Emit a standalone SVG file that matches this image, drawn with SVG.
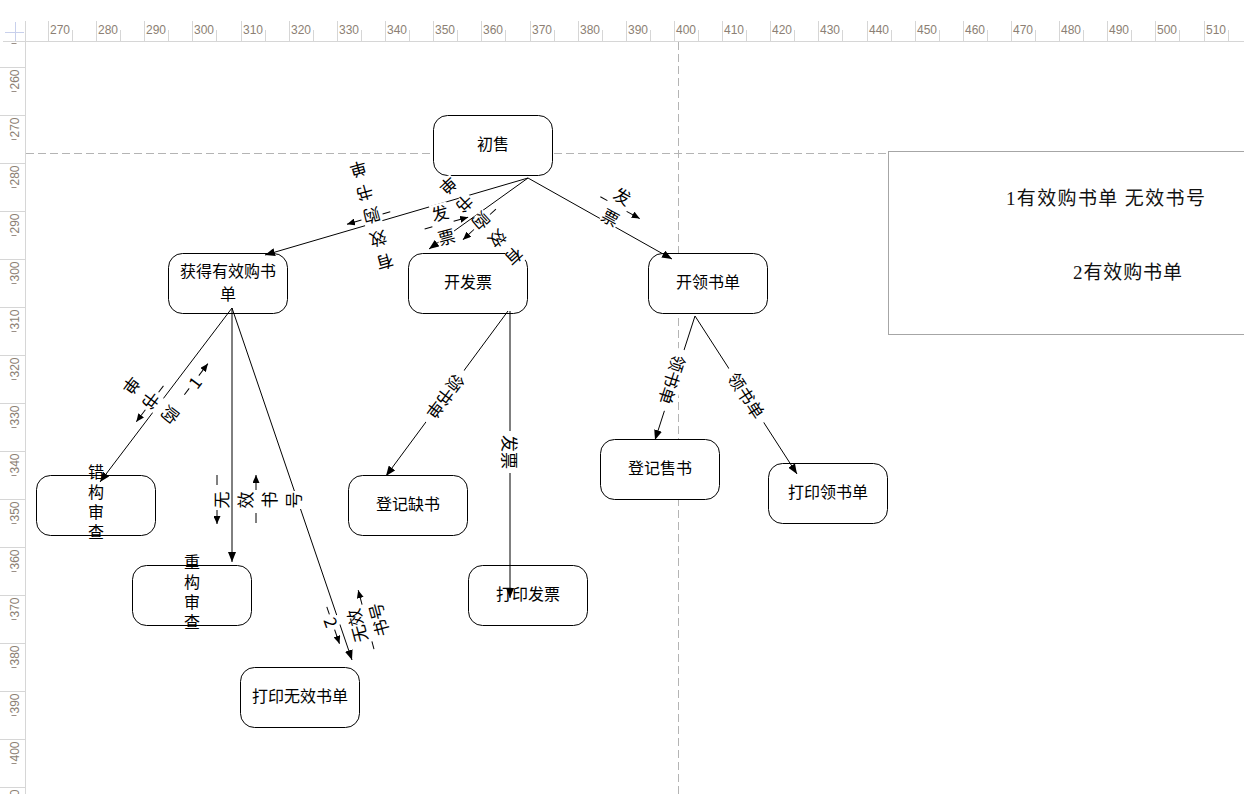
<svg xmlns="http://www.w3.org/2000/svg" width="1244" height="794" viewBox="0 0 1244 794">
<style>
.rl{stroke:#d6d6d6;stroke-width:1;fill:none;shape-rendering:crispEdges}
.rt{font-family:"Liberation Sans",Arial,sans-serif;font-size:12px;fill:#8c7f74}
.guide{stroke:#b4b4b4;stroke-width:1;stroke-dasharray:8 4;fill:none}
.node rect{fill:#fff;stroke:#000;stroke-width:1}
.nt{font-family:"Noto Sans CJK SC","Noto Sans",sans-serif;font-size:16px;fill:#000;text-anchor:middle;dominant-baseline:central}
.vt{font-family:"Noto Sans CJK SC","Noto Sans",sans-serif;font-size:16px;fill:#000;writing-mode:vertical-rl;letter-spacing:4px}
.edge{stroke:#000;stroke-width:1;fill:none;marker-end:url(#ah)}
.lt{font-family:"Noto Sans CJK SC",sans-serif;font-size:17px;fill:#000;text-anchor:middle;dominant-baseline:central}
.lm{fill:#fff}
.ld{stroke:#000;stroke-width:1}
.la{stroke:#000;stroke-width:1;marker-end:url(#sa)}
.lg{font-family:"Liberation Serif","Noto Sans CJK SC",serif;font-size:19px;fill:#111;dominant-baseline:central}
</style>
<defs>
<marker id="ah" markerUnits="userSpaceOnUse" markerWidth="10" markerHeight="8" refX="10" refY="4" orient="auto"><path d="M0,0 L10,4 L0,8 Z" fill="#000"/></marker>
<marker id="sa" markerUnits="userSpaceOnUse" markerWidth="8" markerHeight="7" refX="8" refY="3.5" orient="auto"><path d="M0,0 L8,3.5 L0,7 Z" fill="#000"/></marker>
</defs>
<rect width="1244" height="794" fill="#fff"/>
<g id="ruler">
<line class="rl" x1="3" y1="41.5" x2="1244" y2="41.5"/>
<line class="rl" x1="25.5" y1="21" x2="25.5" y2="794"/>
<line x1="5" y1="32.5" x2="24" y2="32.5" stroke="#c8d0ec"/>
<line x1="15.5" y1="22" x2="15.5" y2="41" stroke="#c8d0ec"/>
<path class="rl" d="M48.5,21V41M96.5,21V41M144.5,21V41M192.5,21V41M241,21V41M289,21V41M337,21V41M385.5,21V41M433.5,21V41M481.5,21V41M530,21V41M578,21V41M626,21V41M674.5,21V41M722.5,21V41M770.5,21V41M818.5,21V41M867,21V41M915,21V41M963,21V41M1011.5,21V41M1059.5,21V41M1107.5,21V41M1155.5,21V41M1204,21V41"/>
<path class="rl" d="M72.5,30V41M120.5,30V41M168.5,30V41M216.5,30V41M265,30V41M313,30V41M361,30V41M409.5,30V41M457.5,30V41M505.5,30V41M554,30V41M602,30V41M650,30V41M698.5,30V41M746.5,30V41M794.5,30V41M842.5,30V41M891,30V41M939,30V41M987,30V41M1035.5,30V41M1083.5,30V41M1131.5,30V41M1179.5,30V41M1228,30V41"/>
<g class="rt">
<text x="50" y="34">270</text><text x="98" y="34">280</text><text x="146" y="34">290</text><text x="194" y="34">300</text><text x="243" y="34">310</text><text x="291" y="34">320</text><text x="339" y="34">330</text><text x="387" y="34">340</text><text x="435" y="34">350</text><text x="483" y="34">360</text><text x="532" y="34">370</text><text x="580" y="34">380</text><text x="628" y="34">390</text><text x="676" y="34">400</text><text x="724" y="34">410</text><text x="772" y="34">420</text><text x="820" y="34">430</text><text x="869" y="34">440</text><text x="917" y="34">450</text><text x="965" y="34">460</text><text x="1013" y="34">470</text><text x="1061" y="34">480</text><text x="1109" y="34">490</text><text x="1157" y="34">500</text><text x="1206" y="34">510</text>
</g>
<path class="rl" d="M0,67.5H25M0,115.5H25M0,163.5H25M0,211.5H25M0,259.5H25M0,307.5H25M0,355.5H25M0,403.5H25M0,451.5H25M0,499.5H25M0,547.5H25M0,595.5H25M0,643.5H25M0,691.5H25M0,739.5H25M0,787.5H25"/>
<path d="M11.5,43.5H16.5M11.5,91.5H16.5M11.5,139.5H16.5M11.5,187.5H16.5M11.5,235.5H16.5M11.5,283.5H16.5M11.5,331.5H16.5M11.5,379.5H16.5M11.5,427.5H16.5M11.5,475.5H16.5M11.5,523.5H16.5M11.5,571.5H16.5M11.5,619.5H16.5M11.5,667.5H16.5M11.5,715.5H16.5M11.5,763.5H16.5" stroke="#9a8f86" stroke-width="1"/>
<g class="rt" text-anchor="end">
<text transform="translate(18.5,69.5) rotate(-90)">260</text>
<text transform="translate(18.5,117.5) rotate(-90)">270</text>
<text transform="translate(18.5,165.5) rotate(-90)">280</text>
<text transform="translate(18.5,213.5) rotate(-90)">290</text>
<text transform="translate(18.5,261.5) rotate(-90)">300</text>
<text transform="translate(18.5,309.5) rotate(-90)">310</text>
<text transform="translate(18.5,357.5) rotate(-90)">320</text>
<text transform="translate(18.5,405.5) rotate(-90)">330</text>
<text transform="translate(18.5,453.5) rotate(-90)">340</text>
<text transform="translate(18.5,501.5) rotate(-90)">350</text>
<text transform="translate(18.5,549.5) rotate(-90)">360</text>
<text transform="translate(18.5,597.5) rotate(-90)">370</text>
<text transform="translate(18.5,645.5) rotate(-90)">380</text>
<text transform="translate(18.5,693.5) rotate(-90)">390</text>
<text transform="translate(18.5,741.5) rotate(-90)">400</text>
<text transform="translate(18.5,789.5) rotate(-90)">410</text>
</g>
</g>
<g id="guides">
<line class="guide" x1="26" y1="153.5" x2="888" y2="153.5"/>
<line class="guide" x1="678.5" y1="42" x2="678.5" y2="794"/>
</g>
<g id="legend">
<rect x="888.5" y="151.5" width="400" height="183" fill="#fff" stroke="#a6a6a6"/>
<text class="lg" x="1006" y="198" textLength="199" lengthAdjust="spacing">1有效购书单  无效书号</text>
<text class="lg" x="1073" y="272" textLength="109" lengthAdjust="spacing">2有效购书单</text>
</g>
<g id="n-chushou" class="node"><rect x="433.5" y="115.5" width="119" height="60" rx="14"/><text class="nt" x="493" y="143">初售</text></g>
<g id="n-huode" class="node"><rect x="168.5" y="253.5" width="119" height="60" rx="14"/><text class="nt" x="228" y="270">获得有效购书<tspan x="228" dy="23">单</tspan></text></g>
<g id="n-kaifapiao" class="node"><rect x="408.5" y="253.5" width="119" height="60" rx="14"/><text class="nt" x="468" y="281">开发票</text></g>
<g id="n-kailing" class="node"><rect x="648.5" y="253.5" width="119" height="60" rx="14"/><text class="nt" x="708" y="281">开领书单</text></g>
<g id="n-cuogou" class="node"><rect x="36.5" y="475.5" width="119" height="60" rx="14"/><text class="vt" x="96" y="464">错构审查</text></g>
<g id="n-chonggou" class="node"><rect x="132.5" y="565.5" width="119" height="60" rx="14"/><text class="vt" x="192" y="554">重构审查</text></g>
<g id="n-dayinwuxiao" class="node"><rect x="240.5" y="667.5" width="119" height="60" rx="14"/><text class="nt" x="300" y="695">打印无效书单</text></g>
<g id="n-dengjique" class="node"><rect x="348.5" y="475.5" width="119" height="60" rx="14"/><text class="nt" x="408" y="503">登记缺书</text></g>
<g id="n-dayinfapiao" class="node"><rect x="468.5" y="565.5" width="119" height="60" rx="14"/><text class="nt" x="528" y="593">打印发票</text></g>
<g id="n-dengjishou" class="node"><rect x="600.5" y="439.5" width="119" height="60" rx="14"/><text class="nt" x="660" y="467">登记售书</text></g>
<g id="n-dayinling" class="node"><rect x="768.5" y="463.5" width="119" height="60" rx="14"/><text class="nt" x="828" y="491">打印领书单</text></g>
<g id="connectors">
<line class="edge" x1="528" y1="178" x2="265" y2="255"/>
<line class="edge" x1="528" y1="178" x2="429" y2="249"/>
<line class="edge" x1="528" y1="178" x2="672" y2="259"/>
<line class="edge" x1="232" y1="308" x2="100" y2="482"/>
<line class="edge" x1="232" y1="308" x2="232" y2="562"/>
<line class="edge" x1="232" y1="308" x2="352" y2="660"/>
<line class="edge" x1="508" y1="311" x2="386" y2="476"/>
<line class="edge" x1="510" y1="311" x2="510" y2="598"/>
<line class="edge" x1="695" y1="316" x2="655" y2="440"/>
<line class="edge" x1="695" y1="316" x2="797" y2="474"/>
</g>
<g id="connector-labels">
<g transform="translate(372,217) rotate(164)">
<rect class="lm" x="-9" y="-57" width="18" height="18"/><rect class="lm" x="-9" y="-33" width="18" height="18"/><rect class="lm" x="-9" y="-9" width="18" height="18"/><rect class="lm" x="-9" y="15" width="18" height="18"/><rect class="lm" x="-9" y="39" width="18" height="18"/>
<text class="lt" x="0" y="-48">有<tspan x="0" dy="24">效</tspan><tspan x="0" dy="24">购</tspan><tspan x="0" dy="24">书</tspan><tspan x="0" dy="24">单</tspan></text>
<line class="ld" x1="-19" y1="0" x2="-11" y2="0"/><line class="la" x1="11" y1="0" x2="26" y2="0"/>
</g>
<g transform="translate(482,222) rotate(137)">
<rect class="lm" x="-9" y="-57" width="18" height="18"/><rect class="lm" x="-9" y="-33" width="18" height="18"/><rect class="lm" x="-9" y="-9" width="18" height="18"/><rect class="lm" x="-9" y="15" width="18" height="18"/><rect class="lm" x="-9" y="39" width="18" height="18"/>
<text class="lt" x="0" y="-48">有<tspan x="0" dy="24">效</tspan><tspan x="0" dy="24">购</tspan><tspan x="0" dy="24">书</tspan><tspan x="0" dy="24">单</tspan></text>
<line class="ld" x1="-19" y1="0" x2="-11" y2="0"/><line class="la" x1="11" y1="0" x2="26" y2="0"/>
</g>
<g transform="translate(443,224) rotate(-15)">
<rect class="lm" x="-9" y="-21" width="18" height="18"/><rect class="lm" x="-9" y="3" width="18" height="18"/>
<text class="lt" x="0" y="-12">发<tspan x="0" dy="24">票</tspan></text>
<line class="ld" x1="-19" y1="0" x2="-11" y2="0"/><line class="la" x1="11" y1="0" x2="26" y2="0"/>
</g>
<g transform="translate(617,206) rotate(29)">
<rect class="lm" x="-9" y="-21" width="18" height="18"/><rect class="lm" x="-9" y="3" width="18" height="18"/>
<text class="lt" x="0" y="-12">发<tspan x="0" dy="24">票</tspan></text>
<line class="ld" x1="-19" y1="0" x2="-11" y2="0"/><line class="la" x1="11" y1="0" x2="26" y2="0"/>
</g>
<g transform="translate(152,401) rotate(127)">
<rect class="lm" x="-9" y="-33" width="18" height="18"/><rect class="lm" x="-9" y="-9" width="18" height="18"/><rect class="lm" x="-9" y="15" width="18" height="18"/>
<text class="lt" x="0" y="-24">购<tspan x="0" dy="24">书</tspan><tspan x="0" dy="24">单</tspan></text>
<line class="ld" x1="-19" y1="0" x2="-11" y2="0"/><line class="la" x1="11" y1="0" x2="26" y2="0"/>
</g>
<g transform="translate(194,382) rotate(-53)">
<rect class="lm" x="-5" y="-9" width="10" height="18"/>
<text class="lt" x="0" y="0">1</text>
<line class="ld" x1="-16" y1="0" x2="-8" y2="0"/><line class="la" x1="8" y1="0" x2="23" y2="0"/>
</g>
<g transform="translate(217,498) rotate(90)">
<line class="ld" x1="-23" y1="0" x2="-13" y2="0"/><line class="la" x1="12" y1="0" x2="26" y2="0"/>
</g>
<g transform="translate(256,500) rotate(-90)">
<rect class="lm" x="-9" y="-45" width="18" height="18"/><rect class="lm" x="-9" y="-21" width="18" height="18"/><rect class="lm" x="-9" y="3" width="18" height="18"/><rect class="lm" x="-9" y="27" width="18" height="18"/>
<text class="lt" x="0" y="-36">无<tspan x="0" dy="24">效</tspan><tspan x="0" dy="24">书</tspan><tspan x="0" dy="24">号</tspan></text>
<line class="ld" x1="-23" y1="0" x2="-13" y2="0"/><line class="la" x1="10" y1="0" x2="25" y2="0"/>
</g>
<g transform="translate(332,622) rotate(71)">
<rect class="lm" x="-5" y="-9" width="10" height="18"/>
<text class="lt" x="0" y="0">2</text>
<line class="ld" x1="-16" y1="0" x2="-8" y2="0"/><line class="la" x1="8" y1="0" x2="23" y2="0"/>
</g>
<g transform="translate(367,623) rotate(-105)">
<rect class="lm" x="-18" y="-20" width="36" height="40"/>
<text class="lt" x="0" y="-11">无效<tspan x="0" dy="22">书号</tspan></text>
<line class="ld" x1="-27" y1="0" x2="-19" y2="0"/><line class="la" x1="19" y1="0" x2="34" y2="0"/>
</g>
<g transform="translate(446,397) rotate(127)"><rect class="lm" x="-32" y="-10" width="64" height="20"/><text class="lt" x="0" y="0">领书单</text></g>
<g transform="translate(510,452) rotate(90)"><rect class="lm" x="-21" y="-10" width="42" height="20"/><text class="lt" x="0" y="0">发票</text></g>
<g transform="translate(673,380) rotate(108)"><rect class="lm" x="-32" y="-10" width="64" height="20"/><text class="lt" x="0" y="0">领书单</text></g>
<g transform="translate(747,395) rotate(57)"><rect class="lm" x="-32" y="-10" width="64" height="20"/><text class="lt" x="0" y="0">领书单</text></g>
</g>
</svg>
